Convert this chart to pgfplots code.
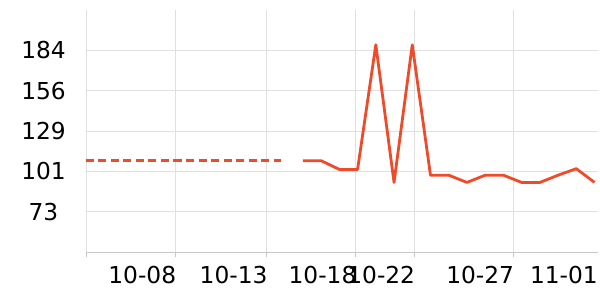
\documentclass[border=0pt]{standalone}
\usepackage{pgfplots}
\pgfplotsset{compat=1.18}
\usepackage{fontspec}
\setmainfont{DejaVu Sans}
\definecolor{lc}{RGB}{238,75,43}
\definecolor{gridc}{RGB}{224,224,224}
\definecolor{axc}{RGB}{200,200,200}
\begin{document}
\begin{tikzpicture}
\begin{axis}[
  name=a,
  scale only axis,
  width=512pt, height=242pt,
  xmin=0, xmax=28.09,
  ymin=45, ymax=212,
  axis x line*=bottom,
  axis y line*=left,
  y axis line style={draw=none},
  x axis line style={draw=axc, line width=0.8pt},
  xtick={0,4.9,9.91,14.79,18.01,23.44},
  xticklabels={,10-08,10-13,10-18,10-22,10-27},
  extra x ticks={28.03},
  extra x tick labels={11-01},
  extra x tick style={grid=none, tick style={draw opacity=0}, xtick style={draw opacity=0}},
  ytick={72.83,100.67,128.5,156.33,184.17},
  yticklabels={73,101,129,156,184},
  tick align=outside,
  major tick length=5pt,
  xtick style={draw=axc, line width=0.8pt},
  ytick style={draw=none},
  grid=major,
  major grid style={draw=gridc, line width=0.8pt},
  ticklabel style={font=\fontsize{23.3pt}{27pt}\selectfont},
  xticklabel style={anchor=north east, inner sep=0pt, xshift=1pt, yshift=-9pt},
  yticklabel style={anchor=center, inner sep=0pt, xshift=-37.5pt},
  clip=false,
]
\addplot[lc, line width=2.8pt, dash pattern=on 8pt off 4.5pt] coordinates {(0,108) (10.7,108)};
\addplot[lc, line width=2.8pt, line join=round] coordinates {
(11.9,108) (12.9,108) (13.9,102) (14.9,102) (15.9,188) (16.9,93) (17.9,188)
(18.9,98) (19.9,98) (20.9,93) (21.9,98) (22.9,98) (23.9,93) (24.9,93)
(25.9,98) (26.9,102.5) (27.9,93)};
\end{axis}
\pgfresetboundingbox
\path ([xshift=-86pt,yshift=-48pt]a.south west) rectangle ([xshift=2pt,yshift=10pt]a.north east);
\end{tikzpicture}
\end{document}
